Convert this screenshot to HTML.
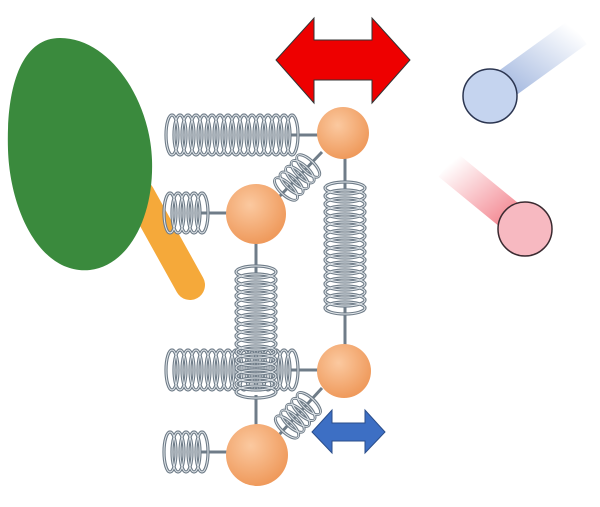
<!DOCTYPE html>
<html><head><meta charset="utf-8"><style>
html,body{margin:0;padding:0;background:#fff;width:600px;height:507px;overflow:hidden}
</style></head><body>
<svg width="600" height="507" viewBox="0 0 600 507" xmlns="http://www.w3.org/2000/svg">
<defs>
<path id="h16" d="M0,20 a6 20 0 1 0 0 -40 a6 20 0 1 0 0 40 m8 0 a6 20 0 1 0 0 -40 a6 20 0 1 0 0 40 m8 0 a6 20 0 1 0 0 -40 a6 20 0 1 0 0 40 m8 0 a6 20 0 1 0 0 -40 a6 20 0 1 0 0 40 m8 0 a6 20 0 1 0 0 -40 a6 20 0 1 0 0 40 m8 0 a6 20 0 1 0 0 -40 a6 20 0 1 0 0 40 m8 0 a6 20 0 1 0 0 -40 a6 20 0 1 0 0 40 m8 0 a6 20 0 1 0 0 -40 a6 20 0 1 0 0 40 m8 0 a6 20 0 1 0 0 -40 a6 20 0 1 0 0 40 m8 0 a6 20 0 1 0 0 -40 a6 20 0 1 0 0 40 m8 0 a6 20 0 1 0 0 -40 a6 20 0 1 0 0 40 m8 0 a6 20 0 1 0 0 -40 a6 20 0 1 0 0 40 m8 0 a6 20 0 1 0 0 -40 a6 20 0 1 0 0 40 m8 0 a6 20 0 1 0 0 -40 a6 20 0 1 0 0 40 m8 0 a6 20 0 1 0 0 -40 a6 20 0 1 0 0 40 m8 0 a6 20 0 1 0 0 -40 a6 20 0 1 0 0 40"/>
<path id="h5" d="M0,20 a6 20 0 1 0 0 -40 a6 20 0 1 0 0 40 m8 0 a6 20 0 1 0 0 -40 a6 20 0 1 0 0 40 m8 0 a6 20 0 1 0 0 -40 a6 20 0 1 0 0 40 m8 0 a6 20 0 1 0 0 -40 a6 20 0 1 0 0 40 m8 0 a6 20 0 1 0 0 -40 a6 20 0 1 0 0 40"/>
<g id="s16"><use href="#h16" stroke="#6f7c88" stroke-width="3.2" fill="none"/><use href="#h16" stroke="#e3e8ec" stroke-width="1" fill="none"/></g>
<g id="s5"><use href="#h5" stroke="#6f7c88" stroke-width="3.2" fill="none"/><use href="#h5" stroke="#e3e8ec" stroke-width="1" fill="none"/></g>
<radialGradient id="og" cx="40%" cy="35%" r="65%"><stop offset="0" stop-color="#fbc9a0"/><stop offset="1" stop-color="#ef9a5c"/></radialGradient>
<linearGradient id="bt" x1="0" y1="1" x2="1" y2="0"><stop offset="0" stop-color="#9db3dd"/><stop offset="1" stop-color="#9db3dd" stop-opacity="0"/></linearGradient>
<linearGradient id="rt" x1="1" y1="1" x2="0" y2="0"><stop offset="0" stop-color="#f27a85"/><stop offset="1" stop-color="#f27a85" stop-opacity="0"/></linearGradient>
</defs>

<!-- paddle -->
<line x1="140" y1="195" x2="190" y2="285" stroke="#f5a93a" stroke-width="30" stroke-linecap="round"/>
<path d="M60,38 C110,38 150,100 152,160 C154,215 130,265 90,270 C40,275 10,210 8,150 C6,90 20,38 60,38 Z" fill="#3a8a3d"/>

<!-- wires -->
<g stroke="#6f7c88" stroke-width="3" fill="none">
<line x1="290" y1="135" x2="320" y2="135"/>
<line x1="200" y1="213" x2="230" y2="213"/>
<line x1="290" y1="370" x2="320" y2="370"/>
<line x1="200" y1="452" x2="230" y2="452"/>
<line x1="345" y1="155" x2="345" y2="190"/>
<line x1="345" y1="305" x2="345" y2="350"/>
<line x1="256" y1="240" x2="256" y2="275"/>
<line x1="256" y1="395" x2="256" y2="430"/>
<line x1="322" y1="152" x2="278" y2="198"/>
<line x1="322" y1="388" x2="278" y2="436"/>
</g>

<!-- springs -->
<use href="#s16" transform="translate(172,135)"/>
<use href="#s5" transform="translate(170,213)"/>
<use href="#s16" transform="translate(172,370)"/>
<use href="#s5" transform="translate(170,452)"/>
<use href="#s16" transform="translate(345,188) rotate(90)"/>
<use href="#s16" transform="translate(256,272) rotate(90)"/>
<use href="#s5" transform="translate(286,189) rotate(-46) scale(1,0.75)"/>
<use href="#s5" transform="translate(287,427) rotate(-47) scale(1,0.75)"/>

<!-- orange balls -->
<circle cx="343" cy="133" r="26" fill="url(#og)"/>
<circle cx="256" cy="214" r="30" fill="url(#og)"/>
<circle cx="344" cy="371" r="27" fill="url(#og)"/>
<circle cx="257" cy="455" r="31" fill="url(#og)"/>

<!-- red arrow -->
<polygon points="276,60 314,18 314,40 372,40 372,18 410,60 372,103 372,80 314,80 314,103" fill="#ee0000" stroke="#333" stroke-width="1"/>
<!-- blue arrow -->
<polygon points="312,432 332,410 332,423 365,423 365,410 385,432 365,453 365,441 332,441 332,453" fill="#3d6fc4" stroke="#2a4d8a" stroke-width="1"/>

<!-- blue ball -->
<line x1="495" y1="92" x2="578" y2="32" stroke="url(#bt)" stroke-width="30"/>
<circle cx="490" cy="96" r="27" fill="#c5d4ef" stroke="#2b3550" stroke-width="1.5"/>
<!-- red ball -->
<line x1="448" y1="165" x2="520" y2="224" stroke="url(#rt)" stroke-width="30"/>
<circle cx="525" cy="229" r="27" fill="#f7b9c1" stroke="#3a2a30" stroke-width="1.5"/>
</svg>
</body></html>
